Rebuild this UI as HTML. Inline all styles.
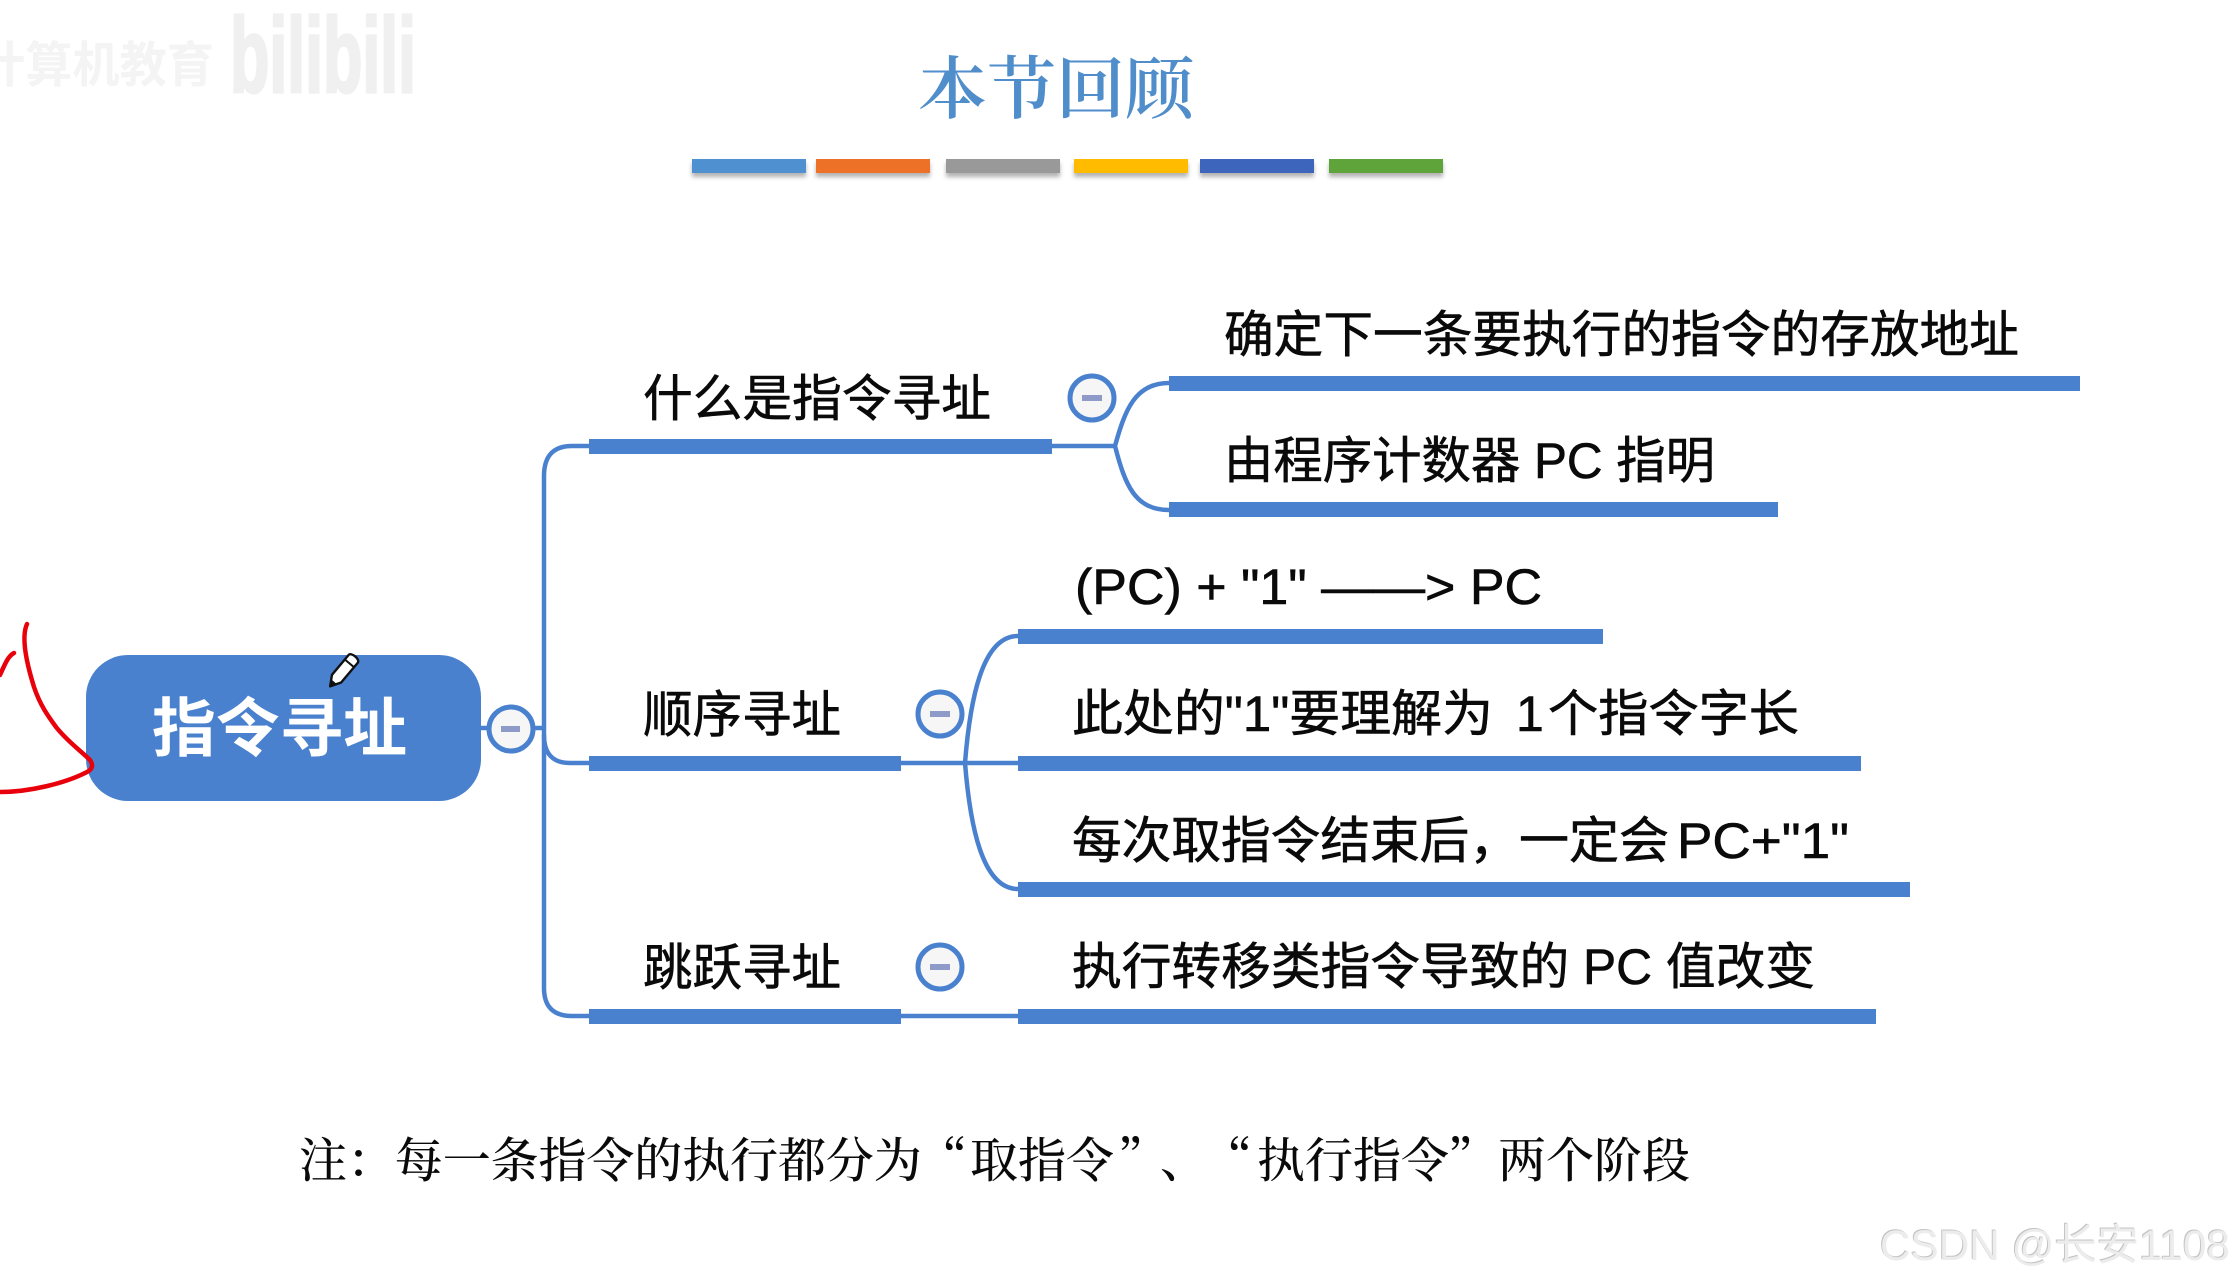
<!DOCTYPE html>
<html lang="zh-Hans"><head><meta charset="utf-8"><title>本节回顾</title>
<style>
html,body{margin:0;padding:0;background:#fff;width:2233px;height:1280px;overflow:hidden}
svg{display:block}
text{font-family:"Liberation Sans","Noto Sans CJK SC",sans-serif;fill:#0a0a0a}
.t{stroke:#0a0a0a;stroke-width:.6}
</style></head><body>
<svg width="2233" height="1280" viewBox="0 0 2233 1280" xmlns="http://www.w3.org/2000/svg">
<defs><filter id="sh" x="-5%" y="-20%" width="110%" height="180%"><feDropShadow dx="0" dy="4" stdDeviation="2" flood-color="#000" flood-opacity=".3"/></filter></defs>
<rect width="2233" height="1280" fill="#fff"/>

<!-- watermark -->
<text x="-22" y="82" font-size="49" font-weight="700" style="fill:#f4f4f4" textLength="236" lengthAdjust="spacingAndGlyphs">计算机教育</text>
<text transform="translate(230 92) scale(1 2.2)" font-size="48" font-weight="700" style="fill:#f0f0f0;stroke:#f0f0f0;stroke-width:1.5" textLength="186" lengthAdjust="spacingAndGlyphs">bilibili</text>

<!-- title -->
<text x="918" y="113" font-size="68" textLength="276" lengthAdjust="spacingAndGlyphs" style="fill:#4f8ecb;font-family:'Noto Serif CJK SC',serif;font-weight:600">本节回顾</text>
<g filter="url(#sh)">
<rect x="692" y="159" width="114" height="14" fill="#4f90d0"/>
<rect x="816" y="159" width="114" height="14" fill="#ed7125"/>
<rect x="946" y="159" width="114" height="14" fill="#999999"/>
<rect x="1074" y="159" width="114" height="14" fill="#ffbb00"/>
<rect x="1200" y="159" width="114" height="14" fill="#3d65bc"/>
<rect x="1329" y="159" width="114" height="14" fill="#5fa33b"/>
</g>

<!-- connectors -->
<g fill="none" stroke="#4a81cf" stroke-width="4.5">
<path d="M481 728H488M532 728H544"/>
<path d="M589 446H572Q544 446 544 476V988Q544 1016 572 1016H589"/>
<path d="M544 735Q544 763 570 763H589"/>
<path d="M1051 446H1115"/>
<path d="M1115 446C1125 410 1135 383 1169 383M1115 446C1125 485 1135 510 1169 510"/>
<path d="M901 763H1018"/>
<path d="M965 763C970 700 982 636 1018 636M965 763C970 825 982 889 1018 889"/>
<path d="M901 1016H1018"/>
</g>

<!-- thick bars -->
<g fill="#4a81cf">
<rect x="589" y="439" width="463" height="15"/>
<rect x="589" y="756" width="312" height="15"/>
<rect x="589" y="1009" width="312" height="15"/>
<rect x="1169" y="376" width="911" height="15"/>
<rect x="1169" y="502" width="609" height="15"/>
<rect x="1018" y="629" width="585" height="15"/>
<rect x="1018" y="756" width="843" height="15"/>
<rect x="1018" y="882" width="892" height="15"/>
<rect x="1018" y="1009" width="858" height="15"/>
<rect x="86" y="655" width="395" height="146" rx="42" ry="42"/>
</g>

<!-- collapse buttons -->
<g fill="#f6f6f6" stroke="#4a81cf" stroke-width="5">
<circle cx="511" cy="729" r="22"/>
<circle cx="1092" cy="398" r="22"/>
<circle cx="940" cy="714" r="22"/>
<circle cx="940" cy="967" r="22"/>
</g>
<g fill="#8e9ac8">
<rect x="501" y="726" width="19" height="6"/>
<rect x="1082" y="395" width="20" height="6"/>
<rect x="930" y="711" width="20" height="6"/>
<rect x="930" y="964" width="20" height="6"/>
</g>

<!-- root -->
<text x="152" y="751" font-size="64" font-weight="700" textLength="255" lengthAdjust="spacingAndGlyphs" style="fill:#fff">指令寻址</text>

<!-- branches -->
<text class="t" x="643" y="416" font-size="50" textLength="348" lengthAdjust="spacingAndGlyphs">什么是指令寻址</text>
<text class="t" x="643" y="732" font-size="50" textLength="198" lengthAdjust="spacingAndGlyphs">顺序寻址</text>
<text class="t" x="643" y="985" font-size="50" textLength="198" lengthAdjust="spacingAndGlyphs">跳跃寻址</text>

<!-- leaves -->
<text class="t" x="1224" y="352" font-size="50" textLength="795" lengthAdjust="spacingAndGlyphs">确定下一条要执行的指令的存放地址</text>
<text class="t" x="1224" y="478" font-size="50" textLength="491" lengthAdjust="spacingAndGlyphs">由程序计数器 PC 指明</text>
<text class="t" x="1075" y="604" font-size="50" textLength="467" lengthAdjust="spacingAndGlyphs">(PC) + "1" ——&gt; PC</text>
<text class="t" x="1072" y="731" font-size="50" textLength="421" lengthAdjust="spacingAndGlyphs">此处的"1"要理解为</text>
<text class="t" x="1516" y="731" font-size="50">1</text>
<text class="t" x="1548" y="731" font-size="50" textLength="251" lengthAdjust="spacingAndGlyphs">个指令字长</text>
<text class="t" x="1072" y="858" font-size="50" textLength="447" lengthAdjust="spacingAndGlyphs">每次取指令结束后，</text>
<text class="t" x="1519" y="858" font-size="50" textLength="150" lengthAdjust="spacingAndGlyphs">一定会</text>
<text class="t" x="1677" y="858" font-size="50" textLength="172" lengthAdjust="spacingAndGlyphs">PC+"1"</text>
<text class="t" x="1072" y="984" font-size="50" textLength="743" lengthAdjust="spacingAndGlyphs">执行转移类指令导致的 PC 值改变</text>

<!-- note -->
<text y="1177" font-size="48" lang="zh-Hans" style="font-family:'Noto Serif CJK SC',serif;font-weight:500" x="299 346.9 394.8 442.7 490.6 538.5 586.4 634.3 682.2 730.1 778 825.9 873.8 919 970 1018 1066 1118 1160 1204 1257 1305 1353 1401 1448 1498 1546 1594 1642">注：每一条指令的执行都分为“取指令”、“执行指令”两个阶段</text>

<!-- red ink -->
<g fill="none" stroke="#e8000b" stroke-width="4.5" stroke-linecap="round" stroke-linejoin="round">
<path d="M27 624C22 635 24 655 34 687C40 705 48 716 56 727C68 742 80 750 90 760C94 766 92 770 85 773C65 783 30 792 0 792"/>
<path d="M14 653C8 656 5 664 0 675"/>
</g>

<!-- pencil cursor -->
<g transform="translate(343 671) rotate(40)">
<path d="M-6 -16a6 3 0 0 1 12 0V10L0 20L-6 10Z" fill="#fff" stroke="#111" stroke-width="2.4" stroke-linejoin="round"/>
<path d="M-6 -10H6" stroke="#111" stroke-width="2"/>
<path d="M-3 14L0 20L3 14Z" fill="#111"/>
</g>

<!-- csdn mark -->
<text x="1879" y="1259" font-size="43" textLength="350" lengthAdjust="spacingAndGlyphs" style="fill:#c4c4c4">CSDN @长安1108</text>
<text x="1880" y="1260" font-size="43" textLength="350" lengthAdjust="spacingAndGlyphs" style="fill:#ececec">CSDN @长安1108</text>
</svg>
</body></html>
